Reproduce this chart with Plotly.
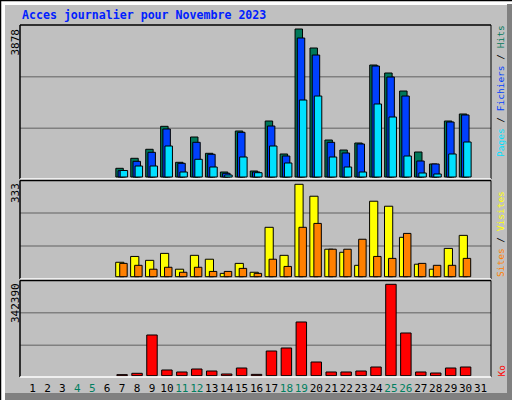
import plotly.graph_objects as go

# --- data ---
days = list(range(1, 32))
weekend_days = [4, 5, 11, 12, 18, 19, 25, 26]

# days 1-6 and 31 have no data
hits = [None] * 6 + [228, 490, 726, 1328, 385, 1048, 621, 131, 1205, 157, 1467, 603,
                     3878, 3380, 969, 707, 891, 2934, 2725, 2253, 655, 341, 1467, 1651] + [None]
fichiers = [None] * 6 + [165, 411, 647, 1258, 359, 909, 595, 97, 1171, 131, 1336, 550,
                         3642, 3196, 909, 629, 865, 2908, 2620, 2122, 419, 341, 1441, 1625] + [None]
pages = [None] * 6 + [170, 288, 288, 812, 131, 464, 262, 52, 524, 113, 812, 367,
                      2017, 2122, 524, 262, 131, 1913, 1572, 550, 105, 79, 603, 917] + [None]
visites = [None] * 6 + [52, 73, 59, 84, 27, 77, 63, 12, 48, 16, 178, 77,
                        333, 290, 99, 88, 41, 272, 254, 142, 45, 27, 102, 149] + [None]
sites = [None] * 6 + [48, 41, 27, 34, 16, 34, 19, 19, 30, 12, 63, 37,
                      178, 192, 99, 99, 135, 73, 66, 156, 48, 41, 41, 66] + [None]
ko = [None] * 6 + [4000, 9000, 152500, 21400, 13900, 25100, 17600, 6400, 28800, 5000, 92500, 103800,
                   201200, 51300, 13900, 13900, 17600, 32600, 342390, 160000, 13900, 10100, 28800, 32600] + [None]

max_hits = 3878
max_visites = 333
max_ko = 342390

C_HITS = "#00785A"
C_FICH = "#0040FF"
C_PAGES = "#00E0FF"
C_VIS = "#FFFF00"
C_SITES = "#FF8000"
C_KO = "#FF0000"
C_WEEKEND = "#007F5F"
GRAY = "#C0C0C0"

W, H = 512, 400


def px(x):
    return x / W


def py(y):
    return 1 - y / H


def yrange(vmax, dom_px, base_gap, top_gap):
    s = vmax / (dom_px - base_gap - top_gap)
    return [-base_gap * s, vmax + top_gap * s]


line = dict(color="black", width=1)

fig = go.Figure()
# top panel: hits / fichiers / pages
fig.add_trace(go.Bar(x=days, y=hits, yaxis="y", width=0.5, offset=-0.42,
                     marker=dict(color=C_HITS, line=line)))
fig.add_trace(go.Bar(x=days, y=fichiers, yaxis="y", width=0.5, offset=-0.27,
                     marker=dict(color=C_FICH, line=line)))
fig.add_trace(go.Bar(x=days, y=pages, yaxis="y", width=0.5, offset=-0.13,
                     marker=dict(color=C_PAGES, line=line)))
# middle panel: visites / sites
fig.add_trace(go.Bar(x=days, y=visites, yaxis="y2", width=0.55, offset=-0.43,
                     marker=dict(color=C_VIS, line=line)))
fig.add_trace(go.Bar(x=days, y=sites, yaxis="y2", width=0.5, offset=-0.16,
                     marker=dict(color=C_SITES, line=line)))
# bottom panel: Ko
fig.add_trace(go.Bar(x=days, y=ko, yaxis="y3", width=0.7, offset=-0.35,
                     marker=dict(color=C_KO, line=line)))

ticktext = [f'<span style="color:{C_WEEKEND}">{d}</span>' if d in weekend_days else str(d)
            for d in days]

hidden_y = dict(showticklabels=False, showgrid=False, zeroline=False, showline=False,
                ticks="", anchor="x", fixedrange=True)

fig.update_layout(
    width=W, height=H,
    margin=dict(l=0, r=0, t=0, b=0),
    paper_bgcolor=GRAY, plot_bgcolor=GRAY,
    showlegend=False, barmode="overlay",
    xaxis=dict(domain=[px(20), px(491)], range=[0.163, 31.7], anchor="y3",
               tickvals=days, ticktext=ticktext, ticks="", showgrid=False, tickangle=0,
               zeroline=False, showline=False, ticklabelstandoff=2, fixedrange=True,
               tickfont=dict(family="DejaVu Sans Mono", size=11, color="black")),
    yaxis=dict(domain=[py(180), py(25)], range=yrange(max_hits, 155, 3, 4), **hidden_y),
    yaxis2=dict(domain=[py(279), py(180)], range=yrange(max_visites, 99, 2.3, 4.3), **hidden_y),
    yaxis3=dict(domain=[py(378), py(280)], range=yrange(max_ko, 98, 2.3, 4.3), **hidden_y),
)

shapes = []
# gridlines at thirds of each panel
for yref in ["y domain", "y2 domain", "y3 domain"]:
    for f in [1 / 3, 2 / 3]:
        shapes.append(dict(type="line", xref="x domain", yref=yref, x0=0, x1=1, y0=f, y1=f,
                           line=dict(color="#808080", width=1.5), layer="below"))

# 3D frame of the whole picture
shapes += [
    dict(type="rect", xref="paper", yref="paper", x0=0, x1=px(5), y0=0, y1=1,
         fillcolor="white", line_width=0, layer="below"),
    dict(type="rect", xref="paper", yref="paper", x0=0, x1=1, y0=py(5), y1=1,
         fillcolor="white", line_width=0, layer="below"),
    dict(type="rect", xref="paper", yref="paper", x0=px(507), x1=1, y0=0, y1=py(4),
         fillcolor="#808080", line_width=0, layer="below"),
    dict(type="rect", xref="paper", yref="paper", x0=px(5), x1=1, y0=0, y1=py(393),
         fillcolor="#808080", line_width=0, layer="below"),
    dict(type="line", xref="paper", yref="paper", x0=0, x1=1, y0=py(0.5), y1=py(0.5),
         line=dict(color="black", width=1.5)),
    dict(type="line", xref="paper", yref="paper", x0=px(0.5), x1=px(0.5), y0=0, y1=1,
         line=dict(color="black", width=1.5)),
]

# panel borders
for top, bot in [(25, 179), (180.5, 279), (280.5, 377)]:
    shapes += [
        dict(type="line", xref="paper", yref="paper", x0=px(20), x1=px(491), y0=py(top), y1=py(top),
             line=dict(color="black", width=1.5)),
        dict(type="line", xref="paper", yref="paper", x0=px(20), x1=px(20), y0=py(bot), y1=py(top),
             line=dict(color="black", width=1.5)),
        dict(type="line", xref="paper", yref="paper", x0=px(491), x1=px(491), y0=py(bot), y1=py(top),
             line=dict(color="black", width=1)),
        dict(type="line", xref="paper", yref="paper", x0=px(20), x1=px(491), y0=py(bot), y1=py(bot),
             line=dict(color="white", width=1.5)),
    ]
fig.update_layout(shapes=shapes)

mono = "DejaVu Sans Mono"
ann = []
ann.append(dict(text="<b>Acces journalier pour Novembre 2023</b>", x=px(20), y=py(15),
                xanchor="left", yanchor="middle",
                font=dict(family=mono, size=11.6, color="#0020FF")))
for label, ytop in [(str(max_hits), 27), (str(max_visites), 181), (str(max_ko), 281)]:
    ann.append(dict(text=label, x=px(15), y=py(ytop), xanchor="center", yanchor="top",
                    textangle=-90, font=dict(family=mono, size=11, color="black")))


def seg(t, c):
    return f'<span style="color:{c}">{t}</span>'


right_labels = [
    (seg("Pages", C_PAGES) + " / " + seg("Fichiers", C_FICH) + " / " + seg("Hits", C_HITS), 91.5),
    (seg("Sites", C_SITES) + " / " + seg("Visites", C_VIS), 234.5),
    (seg("Ko", C_KO), 371),
]
for text, yc in right_labels:
    ann.append(dict(text=text, x=px(500.5), y=py(yc), xanchor="center", yanchor="middle",
                    textangle=-90, font=dict(family=mono, size=9.5, color="black")))

for a in ann:
    a.update(xref="paper", yref="paper", showarrow=False)
fig.update_layout(annotations=ann)

fig.write_html("out.html", config={"displayModeBar": False},
               post_script="document.body.style.margin='0px';")
